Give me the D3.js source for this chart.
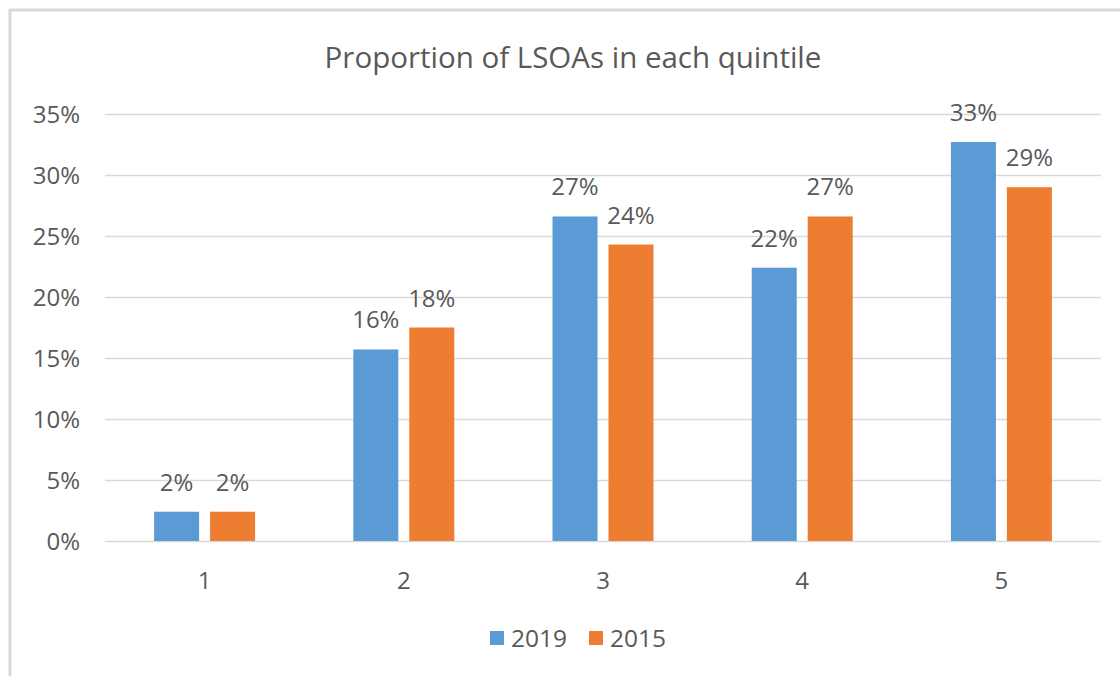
<!DOCTYPE html>
<html>
<head>
<meta charset="utf-8">
<script src="https://cdn.jsdelivr.net/npm/d3@7"></script>
<style>
  body { margin: 0; background: #fff; }
  text { font-family: "Open Sans", sans-serif; fill: #595959; }
</style>
</head>
<body>
<svg id="chart" width="1120" height="676"></svg>
<script>
// chart data
var quintiles = ["1", "2", "3", "4", "5"];
var seriesNames = ["2019", "2015"];
var values2019 = [0.024, 0.157, 0.266, 0.224, 0.327];
var values2015 = [0.024, 0.175, 0.243, 0.266, 0.290];
var yTicks = [0, 0.05, 0.10, 0.15, 0.20, 0.25, 0.30, 0.35];
var colors = ["#5b9bd5", "#ed7d31"];

var svg = d3.select("#chart");
var margin = {left: 105, right: 1101, top: 114, bottom: 541};

// frame (only top and left edges fall inside the picture)
svg.append("rect")
  .attr("x", 10).attr("y", 10)
  .attr("width", 1130).attr("height", 700)
  .attr("fill", "none")
  .attr("stroke", "#d9d9d9")
  .attr("stroke-width", 3);

var x = d3.scaleBand().domain(quintiles).range([margin.left, margin.right]);
var x1 = d3.scaleBand().domain(seriesNames)
  .range([x.bandwidth() / 2 - 50.5, x.bandwidth() / 2 + 50.5])
  .paddingInner(0.196);
var y = d3.scaleLinear().domain([0, 0.35]).range([margin.bottom, margin.top]);

// gridlines
svg.append("g").selectAll("line").data(yTicks).enter().append("line")
  .attr("x1", margin.left).attr("x2", margin.right)
  .attr("y1", function(d){ return Math.round(y(d)) + 0.5; })
  .attr("y2", function(d){ return Math.round(y(d)) + 0.5; })
  .attr("stroke", "#d9d9d9").attr("stroke-width", 1.5);

// y tick labels
svg.append("g").selectAll("text").data(yTicks).enter().append("text")
  .attr("x", 80)
  .attr("y", function(d){ return y(d); })
  .attr("dy", "0.36em")
  .attr("text-anchor", "end")
  .style("font-size", "24px")
  .text(d3.format(".0%"));

// x labels
svg.append("g").selectAll("text").data(quintiles).enter().append("text")
  .attr("x", function(d){ return x(d) + x.bandwidth() / 2; })
  .attr("y", 580)
  .attr("dy", "0.36em")
  .attr("text-anchor", "middle")
  .style("font-size", "24px")
  .text(function(d){ return d; });

var rows = quintiles.map(function(q, i){
  return [
    {q: q, s: "2019", v: values2019[i], c: colors[0]},
    {q: q, s: "2015", v: values2015[i], c: colors[1]}
  ];
});

var groups = svg.append("g").selectAll("g").data(rows).enter().append("g")
  .attr("transform", function(d){ return "translate(" + x(d[0].q) + ",0)"; });

groups.selectAll("rect").data(function(d){ return d; }).enter().append("rect")
  .attr("x", function(d){ return x1(d.s); })
  .attr("width", x1.bandwidth())
  .attr("y", function(d){ return y(d.v); })
  .attr("height", function(d){ return y(0) - y(d.v); })
  .attr("fill", function(d){ return d.c; });

groups.selectAll("text").data(function(d){ return d; }).enter().append("text")
  .attr("x", function(d){ return x1(d.s) + x1.bandwidth() / 2; })
  .attr("y", function(d){ return y(d.v) - 21; })
  .attr("text-anchor", "middle")
  .style("font-size", "24px")
  .text(function(d){ return d3.format(".0%")(d.v); });

// title
svg.append("text")
  .attr("x", 573).attr("y", 57)
  .attr("dy", "0.36em")
  .attr("text-anchor", "middle")
  .style("font-size", "29.5px")
  .text("Proportion of LSOAs in each quintile");

// legend
var legend = svg.append("g").selectAll("g").data(seriesNames).enter().append("g")
  .attr("transform", function(d, i){ return "translate(" + (490 + i * 99) + ",631)"; });
legend.append("rect").attr("width", 14).attr("height", 14)
  .attr("fill", function(d, i){ return colors[i]; });
legend.append("text")
  .attr("x", 21).attr("y", 7).attr("dy", "0.36em")
  .style("font-size", "24.5px")
  .text(function(d){ return d; });
</script>
</body>
</html>
